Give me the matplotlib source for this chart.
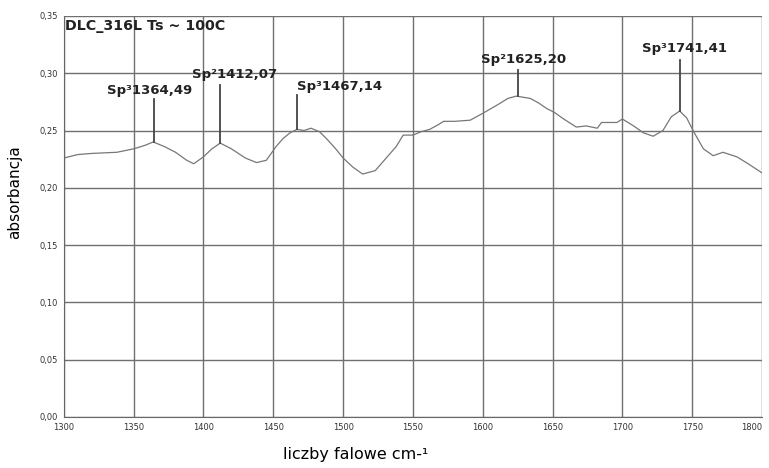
import numpy as np
import matplotlib.pyplot as plt

plt.rcParams['font.family'] = ['DejaVu Sans']

# absorbance spectrum
wavenumber = [1300, 1310, 1320, 1338, 1350, 1358, 1364, 1372, 1380, 1388, 1393,
              1400, 1406, 1412, 1420, 1430, 1438, 1445, 1452, 1457, 1462, 1467,
              1472, 1477, 1483, 1488, 1494, 1500, 1507, 1514, 1523, 1528, 1533,
              1538, 1543, 1550, 1556, 1562, 1568, 1572, 1580, 1591, 1600, 1610,
              1618, 1624, 1634, 1640, 1646, 1651, 1658, 1667, 1674, 1682, 1685,
              1690, 1696, 1700, 1708, 1715, 1722, 1729, 1735, 1741, 1746, 1751,
              1758, 1765, 1772, 1782, 1790, 1800]
absorb = [0.226, 0.229, 0.230, 0.231, 0.234, 0.237, 0.240, 0.236, 0.231, 0.224, 0.221,
          0.227, 0.234, 0.239, 0.234, 0.226, 0.222, 0.224, 0.236, 0.243, 0.248, 0.251,
          0.250, 0.252, 0.249, 0.243, 0.235, 0.226, 0.218, 0.212, 0.215, 0.222, 0.229,
          0.236, 0.246, 0.246, 0.249, 0.251, 0.255, 0.258, 0.258, 0.259, 0.265, 0.272,
          0.278, 0.280, 0.278, 0.274, 0.269, 0.266, 0.260, 0.253, 0.254, 0.252, 0.257,
          0.257, 0.257, 0.260, 0.254, 0.248, 0.245, 0.250, 0.262, 0.267, 0.261, 0.249,
          0.234, 0.228, 0.231, 0.227, 0.221, 0.213]

# peak markers: position, peak height, top of marker line, label
peak_x = [1364.49, 1412.07, 1467.14, 1625.20, 1741.41]
peak_y = [0.240, 0.239, 0.251, 0.280, 0.267]
peak_top = [0.2775, 0.290, 0.281, 0.303, 0.3115]
peak_lbl = ['Sp³1364,49', 'Sp²1412,07', 'Sp³1467,14', 'Sp²1625,20', 'Sp³1741,41']
# where each label starts (left edge, bottom)
lbl_x = [1331, 1392, 1467, 1599, 1714]
lbl_y = [0.2795, 0.2935, 0.283, 0.306, 0.3155]

xticks = [1300, 1350, 1400, 1450, 1500, 1550, 1600, 1650, 1700, 1750, 1800]
yticks = [0.00, 0.05, 0.10, 0.15, 0.20, 0.25, 0.30, 0.35]

fig = plt.figure(figsize=(7.69, 4.68), dpi=100)
ax = fig.add_axes([0.083, 0.109, 0.908, 0.857])

ax.plot(wavenumber, absorb, color='#777777', lw=0.9)

for x, y0, y1, s, lx, ly in zip(peak_x, peak_y, peak_top, peak_lbl, lbl_x, lbl_y):
    ax.plot([x, x], [y0, y1], color='#444444', lw=1.3)
    ax.text(lx, ly, s, ha='left', va='bottom',
            fontsize=9.5, fontweight='bold', color='#222222')

ax.text(1300.5, 0.3475, 'DLC_316L Ts ~ 100C', ha='left', va='top',
        fontsize=10.3, fontweight='bold', color='#222222')

ax.set_xlim(1300, 1800)
ax.set_ylim(0, 0.35)
ax.set_xticks(xticks)
ax.set_yticks(yticks)
ax.set_xticklabels([str(t) for t in xticks], fontsize=6, color='#333333')
ax.get_xticklabels()[-1].set_horizontalalignment('right')
ax.set_yticklabels([f'{t:.2f}'.replace('.', ',') for t in yticks], fontsize=6, color='#333333')
ax.tick_params(length=0, pad=4)
ax.grid(True, color='#707070', lw=1.0)
ax.set_axisbelow(True)
for side in ['top', 'right']:
    ax.spines[side].set_visible(False)
for side in ['left', 'bottom']:
    ax.spines[side].set_color('#666666')

fig.text(15 / 769, 1 - 192 / 468, 'absorbancja', rotation=90,
         ha='center', va='center', fontsize=11)
fig.text(356 / 769, 1 - 455 / 468, 'liczby falowe cm-¹', ha='center', va='center', fontsize=11.5)

fig.savefig('out.png', dpi=100)
